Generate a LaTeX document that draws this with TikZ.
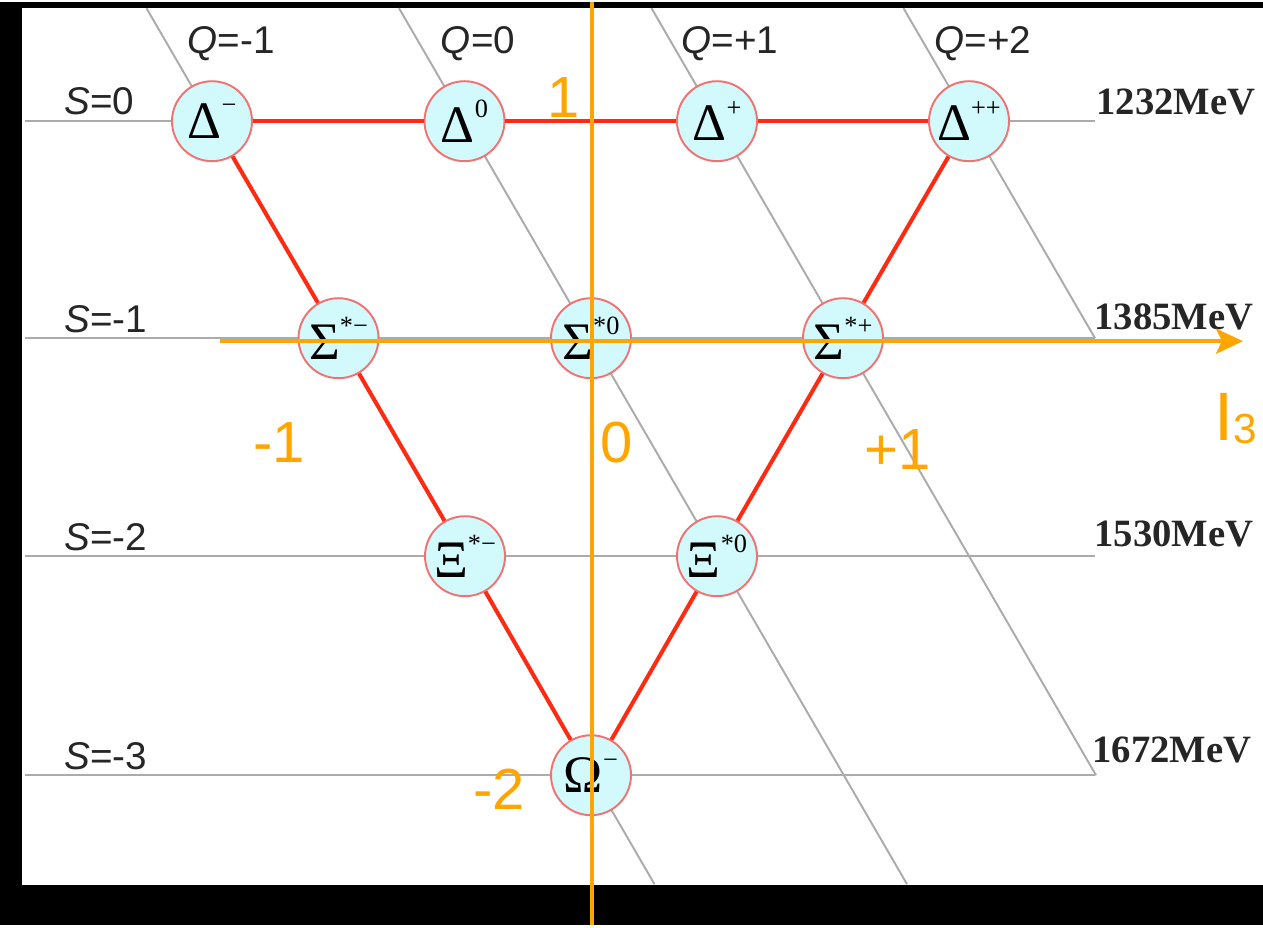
\documentclass[tikz,border=0pt]{standalone}
\usepackage{fontspec}
\setmainfont{Liberation Serif}
\newfontfamily\arialf{Liberation Sans}
\usetikzlibrary{arrows.meta}
\definecolor{gridgrey}{HTML}{ABABAB}
\definecolor{linered}{HTML}{FF2A12}
\definecolor{ballfill}{HTML}{D2FAFC}
\definecolor{balldraw}{HTML}{F07272}
\definecolor{axisorange}{HTML}{FFA500}
\definecolor{inkgrey}{HTML}{262626}
\newcommand\hi[1]{\raisebox{14pt}{\fontsize{15}{16}\selectfont #1}}
\tikzset{
  part/.style={circle, draw=balldraw, fill=ballfill, line width=1.1pt,
               minimum size=16mm, inner sep=0pt, text=black,
               font=\fontsize{30}{32}\selectfont},
  grd/.style={draw=gridgrey, line width=1.1pt},
  rl/.style={draw=linered, line width=2.3pt},
  ax/.style={draw=axisorange, line width=2.5pt},
  qlbl/.style={anchor=base, inner sep=0pt, text=inkgrey,
               font=\arialf\fontsize{22}{24}\selectfont},
  slbl/.style={anchor=base west, inner sep=0pt, text=inkgrey,
               font=\arialf\fontsize{22}{24}\selectfont},
  mev/.style={anchor=base west, inner sep=0pt, text=inkgrey,
              font=\bfseries\fontsize{22}{24}\selectfont},
  olbl/.style={anchor=base, inner sep=0pt, text=axisorange,
               font=\arialf\fontsize{33}{36}\selectfont},
}

\begin{document}
\begin{tikzpicture}[x=0.02cm, y=-0.02cm]
  % frame
  \fill[black] (0,0) rectangle (1263,923);
  \fill[white] (22,6) rectangle (1263,883);

  % strangeness rows and charge lines
  \foreach \y in {119,336,554,773}
    \draw[grd] (25,\y) -- (1095,\y);
  \draw[grd] (146.5,6) -- (654.5,882);
  \draw[grd] (399,6) -- (907,882);
  \draw[grd] (651.5,6) -- (1096,773);
  \draw[grd] (903.5,6) -- (1095,336);

  % decuplet
  \node[part] (dm)  at (212,119) {Δ\hi{−}};
  \node[part] (d0)  at (464.5,119) {Δ\hi{0}};
  \node[part] (dp)  at (717,119) {Δ\hi{+}};
  \node[part] (dpp) at (969,119) {Δ\hi{++}};
  \node[part] (sm)  at (338.5,336) {Σ\hi{*−}};
  \node[part] (s0)  at (591,336) {Σ\hi{*0}};
  \node[part] (sp)  at (843,336) {Σ\hi{*+}};
  \node[part] (xm)  at (465,554) {Ξ\hi{*−}};
  \node[part] (x0)  at (717,554) {Ξ\hi{*0}};
  \node[part] (om)  at (591,773) {Ω\hi{−}};

  \draw[rl] (dm) -- (d0) -- (dp) -- (dpp);
  \draw[rl] (dm) -- (sm) -- (xm) -- (om);
  \draw[rl] (dpp) -- (sp) -- (x0) -- (om);

  % labels
  \node[qlbl] (qm1) at (231,51) {\textit{Q}=-1};
  \node[qlbl] (q0)  at (478,51) {\textit{Q}=0};
  \node[qlbl] (qp1) at (730,51) {\textit{Q}=+1};
  \node[qlbl] (qp2) at (983,51) {\textit{Q}=+2};

  \node[slbl] (s0l) at (64,112) {\textit{S}=0};
  \node[slbl] (s1l) at (64,330) {\textit{S}=-1};
  \node[slbl] (s2l) at (64,548) {\textit{S}=-2};
  \node[slbl] (s3l) at (64,767) {\textit{S}=-3};

  \node[mev] (m1) at (1096,112) {1232MeV};
  \node[mev] (m2) at (1094,327) {1385MeV};
  \node[mev] (m3) at (1094,544) {1530MeV};
  \node[mev] (m4) at (1092,760) {1672MeV};

  % isospin axes
  \coordinate (vt) at (592,0);
  \coordinate (vb) at (592,923);
  \coordinate (hl) at (220,339);
  \coordinate (hr) at (1243,339);
  \draw[ax] (vt) -- (vb);
  \draw[ax, -{Stealth[length=5.4mm, width=5mm, inset=1.2mm]}] (hl) -- (hr);

  \node[olbl] (o1)  at (564,115) {1};
  \node[olbl] (om1) at (279,460) {-1};
  \node[olbl] (o0)  at (617,460) {0};
  \node[olbl] (op1) at (898,467) {+1};
  \node[olbl] (om2) at (499,807) {-2};
  \node[olbl, anchor=base west] (i3) at (1214,438)
       {\fontsize{39}{40}\selectfont I\raisebox{-2pt}{\fontsize{24}{26}\selectfont 3}};
\end{tikzpicture}
\end{document}
